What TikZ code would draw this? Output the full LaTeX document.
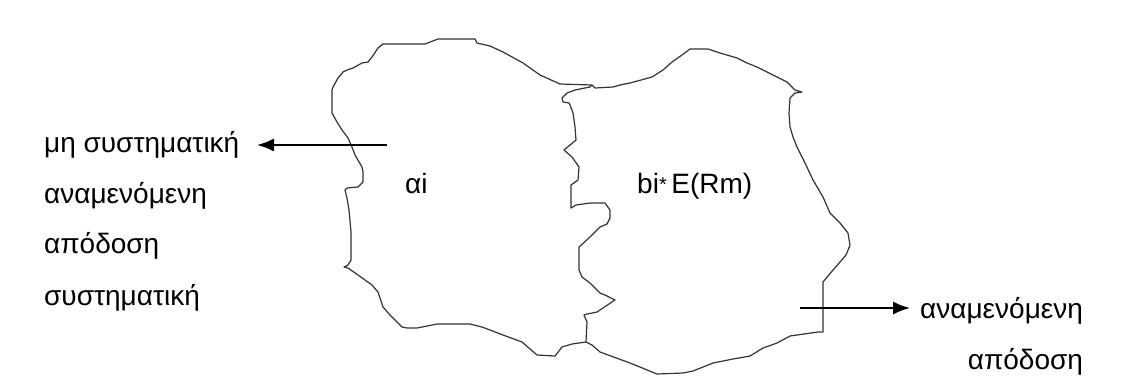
\documentclass[tikz,border=0pt]{standalone}
\usepackage{fontspec}
\setmainfont{Liberation Sans}
\usetikzlibrary{arrows.meta}
\begin{document}
\begin{tikzpicture}[x=1pt,y=-1pt,
  outline/.style={draw=black!80,line width=1.2pt,line join=round},
  pointer/.style={draw=black,line width=1.8pt,-{Latex[length=17pt,width=13pt]}},
  lbl/.style={inner sep=0pt,font=\fontsize{28}{34}\selectfont}]
\useasboundingbox[fill=white] (0,0) rectangle (1123,376);
% outer outline of both regions
\draw[outline] (592,85) -- (560,84) -- (540,75) -- (523,63) -- (503,52) -- (490,46) -- (477,43) -- (475,39) -- (438,39) -- (425,44) -- (383,44) -- (378,48) -- (372,57) -- (368,62) -- (362,63) -- (353,68) -- (347,70) -- (343,72) -- (338,78) -- (333,87) -- (332,90) -- (332,113) -- (337,122) -- (342,130) -- (348,138) -- (352,147) -- (355,155) -- (362,167) -- (363,172) -- (363,182) -- (358,187) -- (347,188) -- (345,190) -- (347,198) -- (349,210) -- (351,232) -- (351,260) -- (348,265) -- (344,267) -- (348,268) -- (358,275) -- (372,285) -- (378,292) -- (383,307) -- (390,315) -- (402,327) -- (407,328) -- (417,328) -- (437,324) -- (470,324) -- (482,327) -- (490,330) -- (503,335) -- (522,342) -- (537,355) -- (555,356) -- (562,347) -- (572,344) -- (586,342)
 -- (592,345) -- (600,352) -- (630,363) -- (657,374) -- (683,373) -- (693,371) -- (713,363) -- (733,359) -- (750,356) -- (763,348) -- (777,343) -- (790,336) -- (818,332) -- (823,332)
 -- (823,297) -- (823,282) -- (833,270) -- (840,262) -- (846,255) -- (850,245) -- (848,233) -- (840,223) -- (830,213) -- (823,197) -- (813,180) -- (805,163) -- (797,147) -- (793,137) -- (790,127) -- (789,113) -- (790,98) -- (795,93) -- (802,92) -- (795,90) -- (787,82) -- (773,75) -- (757,67) -- (747,63) -- (737,58) -- (720,53) -- (708,49) -- (690,49) -- (682,55) -- (672,62) -- (663,70) -- (652,77) -- (630,83) -- (620,85) -- (613,87) -- (595,88) -- cycle;
% dividing line
\draw[outline] (592,85) -- (590,87) -- (575,90) -- (567,93) -- (562,98) -- (563,102) -- (569,103) -- (570,105) -- (573,113) -- (575,127) -- (576,140) -- (570,145) -- (564,150) -- (572,157) -- (579,167) -- (578,180) -- (571,185) -- (571,208) -- (576,205) -- (590,203) -- (605,203) -- (610,210) -- (610,218) -- (607,224) -- (600,227) -- (590,237) -- (579,247) -- (579,270) -- (582,277) -- (590,283) -- (600,293) -- (605,295) -- (615,300) -- (597,312) -- (587,314) -- (584,315) -- (587,322) -- (586,342);
% labels
\node[lbl,anchor=base west] (l1) at (44,152) {μη συστηματική};
\node[lbl,anchor=base west] (l2) at (44,203) {αναμενόμενη};
\node[lbl,anchor=base west] (l3) at (44,253) {απόδοση};
\node[lbl,anchor=base west] (l4) at (44,305) {συστηματική};
\node[lbl,anchor=base west] (ai) at (405,193) {αi};
\node[lbl,anchor=base west] (bi) at (637,193) {bi\raisebox{2pt}{\fontsize{20}{24}\selectfont*}\,E(Rm)};
\node[lbl,anchor=base west] (r1) at (920,318) {αναμενόμενη};
\node[lbl,anchor=base east] (r2) at (r1.base east |- 0,369) {απόδοση};
% arrows
\coordinate (aLs) at (387,145);
\coordinate (aLe) at (257,145);
\coordinate (aRs) at (800,308);
\coordinate (aRe) at (910,308);
\draw[pointer] (aLs) -- (aLe);
\draw[pointer] (aRs) -- (aRe);
\end{tikzpicture}
\end{document}
